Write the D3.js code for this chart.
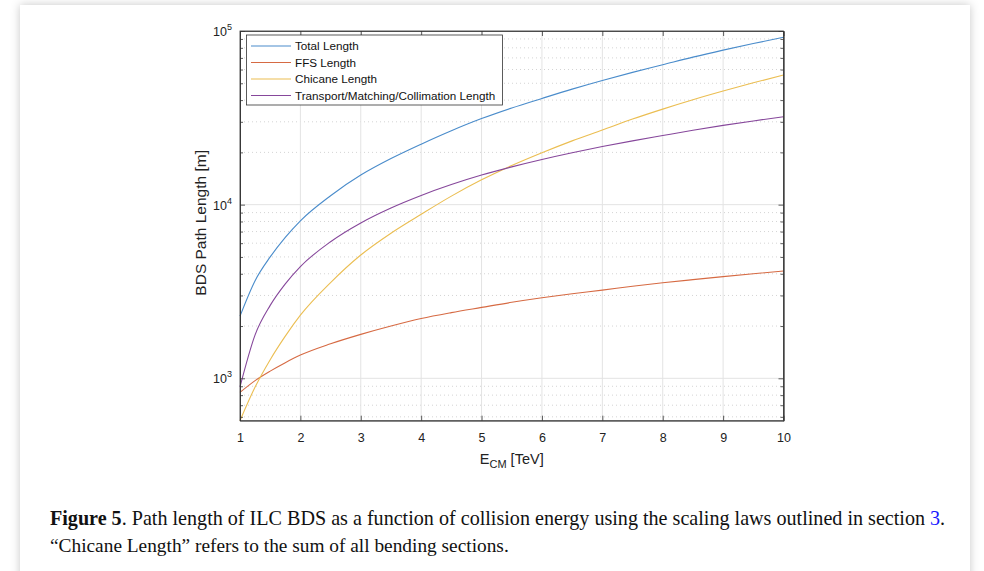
<!DOCTYPE html>
<html><head><meta charset="utf-8">
<script src="https://cdn.jsdelivr.net/npm/d3@7/dist/d3.min.js"></script>
<style>body{margin:0;background:#fff;}svg{display:block;}</style>
</head><body>
<svg id="chart" width="984" height="571"></svg>
<script>
const energy = [1, 1.25, 1.5, 1.75, 2, 2.5, 3, 3.5, 4, 4.5, 5, 5.5, 6, 6.5, 7, 7.5, 8, 8.5, 9, 9.5, 10];
const totalLength = [2280, 3650, 5000, 6480, 8075, 11260, 14800, 18420, 22300, 26640, 31300, 36040, 40900, 46270, 51900, 57790, 63900, 70700, 77600, 84650, 92000];
const ffsLength = [830, 970, 1100, 1230, 1360, 1580, 1790, 2000, 2210, 2390, 2560, 2740, 2910, 3070, 3220, 3390, 3550, 3700, 3850, 4000, 4150];
const chicaneLength = [570, 890, 1280, 1750, 2310, 3560, 5130, 6850, 8800, 11200, 13900, 16800, 19900, 23300, 26900, 31100, 35500, 40200, 45100, 50300, 55800];
const transportLength = [893, 1780, 2630, 3500, 4400, 6120, 7850, 9570, 11300, 13050, 14800, 16500, 18200, 19900, 21600, 23300, 25000, 26800, 28600, 30350, 32100];
const seriesNames = ["Total Length", "FFS Length", "Chicane Length", "Transport/Matching/Collimation Length"];
const xTicks = [1,2,3,4,5,6,7,8,9,10];
const yDecades = [3,4,5];

const series = [totalLength, ffsLength, chicaneLength, transportLength];
const colors = ["#4a8ccb", "#d66a43", "#ebbe52", "#86479b"];

const svg = d3.select("#chart");
const defs = svg.append("defs");
const f = defs.append("filter").attr("id","sh").attr("x","-5%").attr("y","-5%").attr("width","110%").attr("height","110%");
f.append("feDropShadow").attr("dx",0).attr("dy",0).attr("stdDeviation",5).attr("flood-color","#000").attr("flood-opacity",0.22);
svg.append("rect").attr("x",20).attr("y",5).attr("width",950).attr("height",600).attr("fill","#fff").attr("filter","url(#sh)");

const L=240, R=783.5, T=31, B=420.7;
const x = d3.scaleLinear().domain([1,10]).range([L,R]);
const y = d3.scaleLog().domain([570,100000]).range([B,T]);

const g = svg.append("g");
const minorVals=[];
[2,3,4].forEach(e=>{for(let k=2;k<10;k++){const v=k*Math.pow(10,e); if(v>=570) minorVals.push(v);}});
g.selectAll(".mg").data(minorVals).join("line")
  .attr("x1",L).attr("x2",R).attr("y1",d=>y(d)).attr("y2",d=>y(d))
  .attr("stroke","#d4d4d4").attr("stroke-width",1).attr("stroke-dasharray","1,3");
g.selectAll(".xg").data(xTicks.slice(1,-1)).join("line")
  .attr("x1",d=>x(d)).attr("x2",d=>x(d)).attr("y1",T).attr("y2",B)
  .attr("stroke","#e3e3e3").attr("stroke-width",1);
g.selectAll(".yg").data(yDecades.slice(0,2)).join("line")
  .attr("x1",L).attr("x2",R).attr("y1",d=>y(Math.pow(10,d))).attr("y2",d=>y(Math.pow(10,d)))
  .attr("stroke","#e3e3e3").attr("stroke-width",1);

const line = d3.line().x((d,i)=>x(energy[i])).y(d=>y(d)).curve(d3.curveMonotoneX);
series.forEach((s,i)=>{
  g.append("path").datum(s).attr("d",line).attr("fill","none").attr("stroke",colors[i]).attr("stroke-width",1.1);
});

const font="'Liberation Sans',Arial,sans-serif";
const axCol="#333";
const xb = d3.axisBottom(x).tickValues(xTicks).tickSizeInner(-5).tickSizeOuter(0).tickPadding(12).tickFormat(d3.format("d"));
const xt = d3.axisTop(x).tickValues(xTicks).tickSizeInner(-5).tickSizeOuter(0).tickFormat("");
const yMajor = yDecades.map(e=>Math.pow(10,e));
const yl = d3.axisLeft(y).tickValues(yMajor).tickSizeInner(-5).tickSizeOuter(0).tickFormat("");
const yr = d3.axisRight(y).tickValues(yMajor).tickSizeInner(-5).tickSizeOuter(0).tickFormat("");
const ylm = d3.axisLeft(y).tickValues(minorVals).tickSizeInner(-3).tickSizeOuter(0).tickFormat("");
const yrm = d3.axisRight(y).tickValues(minorVals).tickSizeInner(-3).tickSizeOuter(0).tickFormat("");
function styleAx(sel){sel.attr("font-size",null).attr("font-family",null);sel.selectAll("path,line").attr("stroke",axCol).attr("stroke-width",0.8);sel.selectAll("text").attr("fill","#222").style("font-family",font).style("font-size","12.5px");}
svg.append("g").attr("transform",`translate(0,${B})`).call(xb).call(styleAx);
svg.append("g").attr("transform",`translate(0,${T})`).call(xt).call(styleAx);
svg.append("g").attr("transform",`translate(${L},0)`).call(yl).call(styleAx);
svg.append("g").attr("transform",`translate(${R},0)`).call(yr).call(styleAx);
svg.append("g").attr("transform",`translate(${L},0)`).call(ylm).call(styleAx);
svg.append("g").attr("transform",`translate(${R},0)`).call(yrm).call(styleAx);
svg.append("rect").attr("x",L).attr("y",T).attr("width",R-L).attr("height",B-T).attr("fill","none").attr("stroke",axCol).attr("stroke-width",0.8);

yDecades.forEach(e=>{
  const t=svg.append("text").attr("x",L-8).attr("y",y(Math.pow(10,e))+5).attr("text-anchor","end")
   .style("font-family",font).style("font-size","12.5px").attr("fill","#222");
  t.append("tspan").text("10");
  t.append("tspan").attr("dy",-6).style("font-size","9px").text(e);
});

const xl = svg.append("text").attr("x",(L+R)/2).attr("y",464).attr("text-anchor","middle")
  .style("font-family",font).style("font-size","14.5px").attr("fill","#222");
xl.append("tspan").text("E");
xl.append("tspan").attr("dy",4).style("font-size","11px").text("CM");
xl.append("tspan").attr("dy",-4).text(" [TeV]");
svg.append("text").attr("transform",`translate(206,${(T+B)/2 - 3}) rotate(-90)`).attr("text-anchor","middle")
  .style("font-family",font).style("font-size","15.5px").attr("fill","#222").text("BDS Path Length [m]");

const lg = svg.append("g");
lg.append("rect").attr("x",246.5).attr("y",35).attr("width",256).attr("height",70).attr("fill","#fff").attr("stroke","#333").attr("stroke-width",0.8);
seriesNames.forEach((n,i)=>{
  const yy = 46 + i*16.5;
  lg.append("line").attr("x1",251).attr("x2",291).attr("y1",yy).attr("y2",yy).attr("stroke",colors[i]).attr("stroke-width",1.1);
  lg.append("text").attr("x",295).attr("y",yy+4.3).style("font-family",font).style("font-size","11.7px").attr("fill","#111").text(n);
});

const serif="'Liberation Serif','Times New Roman',serif";
function fitText(t, target){
  const w = t.node().getComputedTextLength();
  const fs = parseFloat(t.style("font-size"));
  t.style("font-size", (fs*target/w)+"px");
}
const c1 = svg.append("text").attr("x",50).attr("y",525).style("font-family",serif).style("font-size","19px").attr("fill","#111");
c1.append("tspan").style("font-weight","bold").text("Figure 5");
c1.append("tspan").text(". Path length of ILC BDS as a function of collision energy using the scaling laws outlined in section ");
c1.append("tspan").attr("fill","#1a1aff").text("3");
c1.append("tspan").text(".");
fitText(c1, 896);
const c2 = svg.append("text").attr("x",50).attr("y",552).style("font-family",serif).style("font-size","19px").attr("fill","#111")
  .text("\u201CChicane Length\u201D refers to the sum of all bending sections.");
fitText(c2, 459);
</script>
</body></html>
